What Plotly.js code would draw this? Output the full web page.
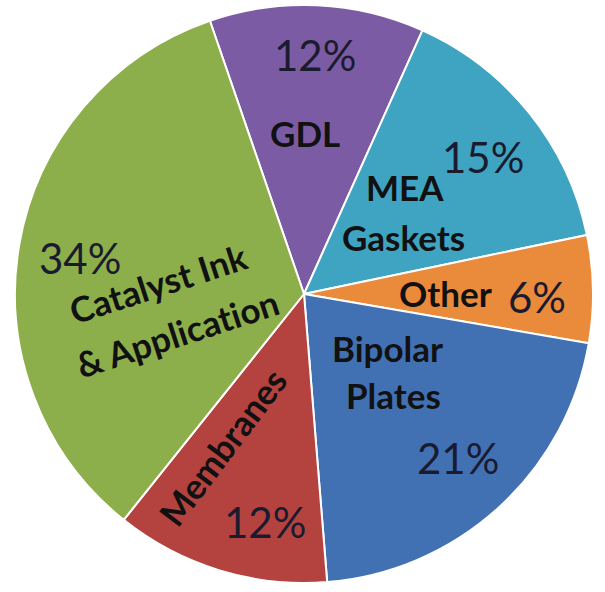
<!DOCTYPE html>
<html>
<head>
<meta charset="utf-8">
<script src="https://cdn.plot.ly/plotly-3.0.1.min.js"></script>
<style>html,body{margin:0;padding:0;background:#fff;}#chart{width:605px;height:592px;}</style>
</head>
<body>
<div id="chart"></div>
<script>
// Data
const categories = ["GDL", "MEA Gaskets", "Other", "Bipolar Plates", "Membranes", "Catalyst Ink & Application"];
const shares = [12, 15, 6, 21, 12, 34];
const sliceColors = ["#7B5BA4", "#3FA4C1", "#EA8A3B", "#4271B3", "#B4433F", "#8DAF4B"];

const W = 605, H = 592;
const px = (x) => x / W;
const py = (y) => 1 - y / H;

// label lines (category name split over lines) and placement
const labelLines = [
  [{t: "GDL", x: 305, y: 133, a: 0}],
  [{t: "MEA", x: 405, y: 187, a: 0}, {t: "Gaskets", x: 403, y: 237, a: 0}],
  [{t: "Other", x: 445, y: 293, a: 0}],
  [{t: "Bipolar", x: 388, y: 348, a: 0}, {t: "Plates", x: 393, y: 395, a: 0}],
  [{t: "Membranes", x: 222, y: 447, a: -53}],
  [{t: "Catalyst Ink", x: 158, y: 283, a: -18}, {t: "&amp; Applicat\u200Cion", x: 177, y: 333, a: -18}]
];
const pctPos = [
  {x: 315, y: 55}, {x: 483, y: 157}, {x: 537, y: 297},
  {x: 458, y: 458}, {x: 265, y: 522}, {x: 80, y: 258}
];

const annotations = [];
categories.forEach((c, i) => {
  labelLines[i].forEach(l => {
    annotations.push({
      xref: "paper", yref: "paper", x: px(l.x), y: py(l.y),
      xanchor: "center", yanchor: "middle", showarrow: false,
      text: "<b>" + l.t + "</b>", textangle: l.a,
      font: {family: "Lato, 'Open Sans', sans-serif", size: 35, color: "#111"}
    });
  });
  annotations.push({
    xref: "paper", yref: "paper", x: px(pctPos[i].x), y: py(pctPos[i].y),
    xanchor: "center", yanchor: "middle", showarrow: false,
    text: shares[i] + "%",
    font: {family: "Lato, 'Open Sans', sans-serif", size: 42, color: "#1b1b30"}
  });
});

const cx = 304, cy = 294, r = 289;
const trace = {
  type: "pie",
  labels: categories,
  values: shares,
  sort: false,
  direction: "clockwise",
  rotation: -19,
  textinfo: "none",
  hoverinfo: "label+percent",
  marker: {colors: sliceColors, line: {color: "#ffffff", width: 2}},
  domain: {x: [px(cx - r), px(cx + r)], y: [1 - (cy + r) / H, 1 - (cy - r) / H]}
};

Plotly.newPlot("chart", [trace], {
  width: W, height: H,
  margin: {l: 0, r: 0, t: 0, b: 0},
  paper_bgcolor: "#fff",
  showlegend: false,
  annotations: annotations
}, {displayModeBar: false, staticPlot: true});
</script>
</body>
</html>
